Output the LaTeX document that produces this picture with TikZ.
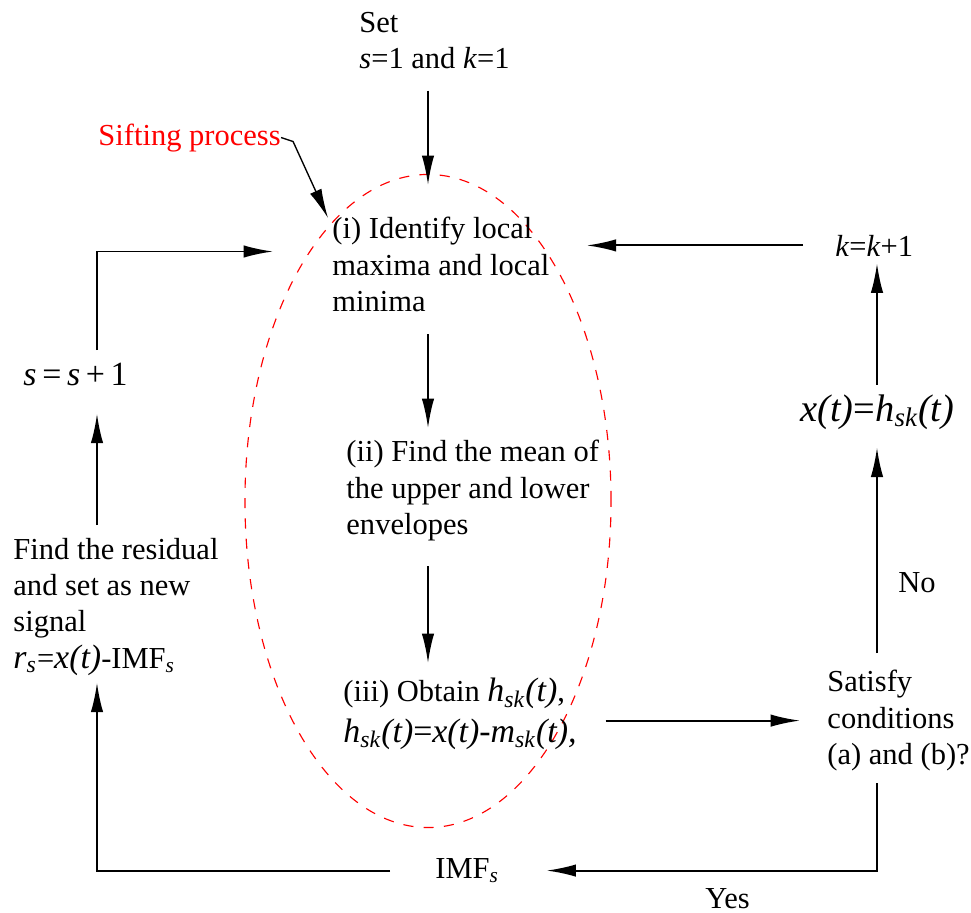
\documentclass[tikz,border=0pt]{standalone}
\usepackage{fontspec}
\setmainfont{Liberation Serif}
\usetikzlibrary{shapes.geometric,arrows.meta,calc}
\newcommand{\mbig}[1]{{\fontsize{15}{16}\selectfont\itshape #1}}

\begin{document}
\begin{tikzpicture}[x=0.4425pt,y=-0.4425pt]
\tikzset{txt/.style={inner sep=0mm,align=left,font=\fontsize{13.5}{16}\selectfont}}
\tikzset{arr/.style={draw=black,-{Latex[length=13pt,width=5.5pt]},line width=0.85pt}}
\tikzset{siftloop/.style={draw=red,dash pattern=on 4.5pt off 4.5pt,line width=0.5pt,ellipse,inner sep=0mm,minimum width=162pt,minimum height=289pt}}

\useasboundingbox (0,0) rectangle (971,913);

\node[siftloop] (sift) at (428,501) {};
\coordinate (leftrail) at (97,0);
\coordinate (rightrail) at (877,0);

% texts
\node[txt,anchor=north west] (start) at (359,12) {Set\\\textit{s}=1 and \textit{k}=1};
\node[txt,anchor=base west,text=red] (sifttxt) at (98,145) {Sifting process};
\node[txt,anchor=north west] (id) at (332,217) {(i) Identify local\\maxima and local\\minima};
\node[txt,anchor=north west] (mean) at (346,440) {(ii) Find the mean of\\the upper and lower\\envelopes};
\node[txt,anchor=north west] (obtain) at (343,678) {(iii) Obtain \mbig{h\textsubscript{sk}(t)},\\[2pt]\mbig{h\textsubscript{sk}(t){\upshape=}x(t)-m\textsubscript{sk}(t),}};
\node[txt,anchor=north west] (cond) at (827,670) {Satisfy\\conditions\\(a) and (b)?};
\node[txt,anchor=north west] (resid) at (13,538) {Find the residual\\and set as new\\signal\\\mbig{r\textsubscript{s}}={\mbig{x(t)}}-IMF\textsubscript{\textit{s}}};
\node[txt,anchor=base west] (sinc) at (23,385) {\mbig{s\,{\upshape=}\,s\,{\upshape+\,1}}};
\node[txt,anchor=base west,font=\fontsize{17}{18}\selectfont] (xeq) at (800,421) {\itshape x(t){\upshape=}h\textsubscript{sk}(t)};
\node[txt,anchor=base west] (kinc) at (835,256) {\textit{k}=\textit{k}+1};
\node[txt,anchor=base west] (imf) at (435,878) {IMF\textsubscript{\textit{s}}};
\node[txt,anchor=base west] (lblno) at (898,592) {No};
\node[txt,anchor=base west] (lblyes) at (705,908) {Yes};

% sifting loop
\draw[arr] ($(start.south -| sift.north)+(0,21)$) -- ($(sift.north)+(0,11)$);
\draw[arr] ($(id.south -| sift.center)+(0,22)$) -- ($(mean.north -| sift.center)+(0,-12)$);
\draw[arr] ($(mean.south -| sift.center)+(0,25)$) -- ($(obtain.north -| sift.center)+(0,-15)$);
\draw[arr] ($(sift.east |- cond.west)+(-6,0)$) -- ($(cond.west)+(-27,0)$);

% right side
\draw[arr] ($(rightrail |- cond.north)+(0,-17)$) -- ($(rightrail |- xeq.south)+(0,18)$);
\draw[arr] ($(rightrail |- xeq.north)+(0,-9)$) -- ($(rightrail |- kinc.south)+(0,7)$);
\draw[arr] ($(kinc.west)+(-32,0)$) -- ($(kinc.west -| id.east)+(37,0)$);
\draw[arr] ($(rightrail |- cond.south)+(0,12)$) |- ($(imf.east)+(47,0)$);

% left side
\draw[arr] ($(imf.west)+(-45,0)$) -| ($(leftrail |- resid.south)+(0,7)$);
\draw[arr] ($(leftrail |- resid.north)+(0,-13)$) -- ($(leftrail |- sinc.south)+(0,28)$);
\draw[arr] ($(leftrail |- sinc.north)+(0,-12)$) |- ($(id.west)+(-59,-13)$);

% label pointer
\draw[arr,line width=0.6pt] (sifttxt.east) -- ++(12,4) -- ($(id.north west)+(-4,1)$);
\end{tikzpicture}
\end{document}
